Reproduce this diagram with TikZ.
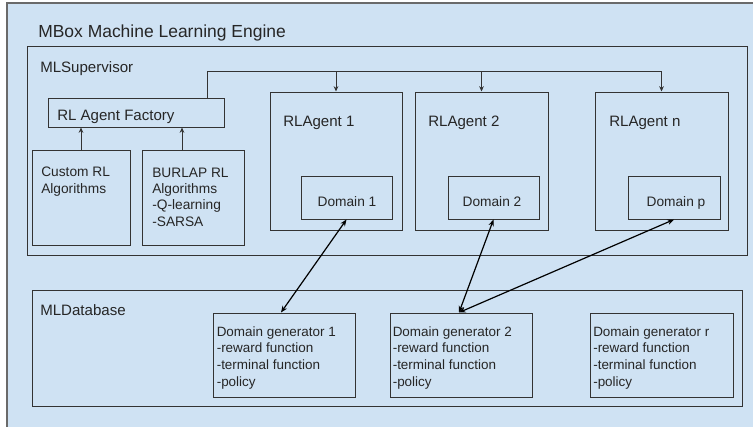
\documentclass[tikz,border=0pt]{standalone}
\usepackage{fontspec}
\setmainfont{Liberation Sans}
\usetikzlibrary{arrows.meta}
\usetikzlibrary{fit}
\usetikzlibrary{calc}

\definecolor{paneblue}{HTML}{CFE2F3}
\definecolor{rim}{HTML}{6A6A6A}
\definecolor{ink}{HTML}{333333}

\tikzset{
  pane/.style={draw=ink, line width=0.75pt, inner sep=0pt},
  caption/.style={anchor=base west, inner sep=0pt, text=black!85, font=\fontsize{11.3}{13}\selectfont},
  note/.style={anchor=base west, inner sep=0pt, align=left, text=black!85, font=\fontsize{10.3}{12.2}\selectfont},
  gen/.style={anchor=base west, inner sep=0pt, align=left, text=black!85, font=\fontsize{10.1}{12.5}\selectfont},
  tip/.style={-{Stealth[length=4pt, width=3.5pt]}, draw=ink, line width=0.75pt},
  link/.style={{Stealth[length=5pt, width=4pt]}-{Stealth[length=5pt, width=4pt]}, line width=0.9pt},
}

\begin{document}
\begin{tikzpicture}[x=0.75pt, y=-0.75pt]
    \clip (0,0) rectangle (753,426);
    \fill[paneblue] (7,3) rectangle (760,430);
    \draw[rim, line width=1.4pt] (7,3) rectangle (760,430);
    \node[caption, font=\fontsize{13.1}{15}\selectfont] (engine) at (38,37.5) {MBox Machine Learning Engine};

    % supervisor side
    \node[pane, fit={(27,46) (747,255)}] (supervisor) {};
    \node[caption] (suplabel) at (40,72.7) {MLSupervisor};

    \node[pane, fit={(48,98) (224,127)}] (factory) {};
    \node[caption] (factorylabel) at (57,120) {RL Agent Factory};

    % multi-line labels sit on their last baseline
    \node[pane, fit={(32,150) (130,245)}] (custom) {};
    \node[note] (customlabel) at (41,193) {Custom RL\\Algorithms};
    \node[pane, fit={(142,150) (244,245)}] (burlap) {};
    \node[note] (burlaplabel) at (152,226) {BURLAP RL\\Algorithms\\-Q-learning\\-SARSA};

    \node[pane, fit={(270,92) (402,230)}] (agent1) {};
    \node[caption] (agent1label) at (283,126.7) {RLAgent 1};
    \node[pane, fit={(415,92) (548,230)}] (agent2) {};
    \node[caption] (agent2label) at (428,126.7) {RLAgent 2};
    \node[pane, fit={(595,92) (728,230)}] (agentn) {};
    \node[caption] (agentnlabel) at (609,126.7) {RLAgent n};

    \node[pane, fit={(301,176) (392,219)}] (dom1) {};
    \node[note, anchor=base] (dom1label) at (347,206.7) {Domain 1};
    \node[pane, fit={(448,176) (539,219)}] (dom2) {};
    \node[note, anchor=base] (dom2label) at (492,206.7) {Domain 2};
    \node[pane, fit={(628,176) (720,219)}] (domp) {};
    \node[note, anchor=base] (domplabel) at (676,206.7) {Domain p};

    \draw[tip] (custom.north) -- (factory.south -| custom.north);
    \draw[tip] ($(burlap.north)+(-11,0)$) -- ($(factory.south -| burlap.north)+(-11,0)$);

    % agent bus
    \coordinate (bus) at (207,71);
    \draw[tip] (bus |- factory.north) -- (bus) -| (agentn.north);
    \draw[tip] (agent1.north |- bus) -- (agent1.north);
    \draw[tip] (agent2.north |- bus) -- (agent2.north);

    % database side
    \node[pane, fit={(32,290) (742,406)}] (database) {};
    \node[caption] (dblabel) at (40,315) {MLDatabase};

    \node[pane, fit={(213,313) (355,397)}] (gen1) {};
    \node[gen] (gen1label) at (216.5,386) {Domain generator 1\\-reward function\\-terminal function\\-policy};
    \node[pane, fit={(390,313) (532,397)}] (gen2) {};
    \node[gen] (gen2label) at (392.5,386) {Domain generator 2\\-reward function\\-terminal function\\-policy};
    \node[pane, fit={(590,313) (733,397)}] (genr) {};
    \node[gen] (genrlabel) at (593,386) {Domain generator r\\-reward function\\-terminal function\\-policy};

    \draw[link] (dom1.south) -- ($(gen1.north)+(-3,0)$);
    \draw[link] (dom2.south) -- ($(gen2.north)+(-2,0)$);
    \draw[link] (domp.south) -- ($(gen2.north)+(-2,0)$);
\end{tikzpicture}
\end{document}
